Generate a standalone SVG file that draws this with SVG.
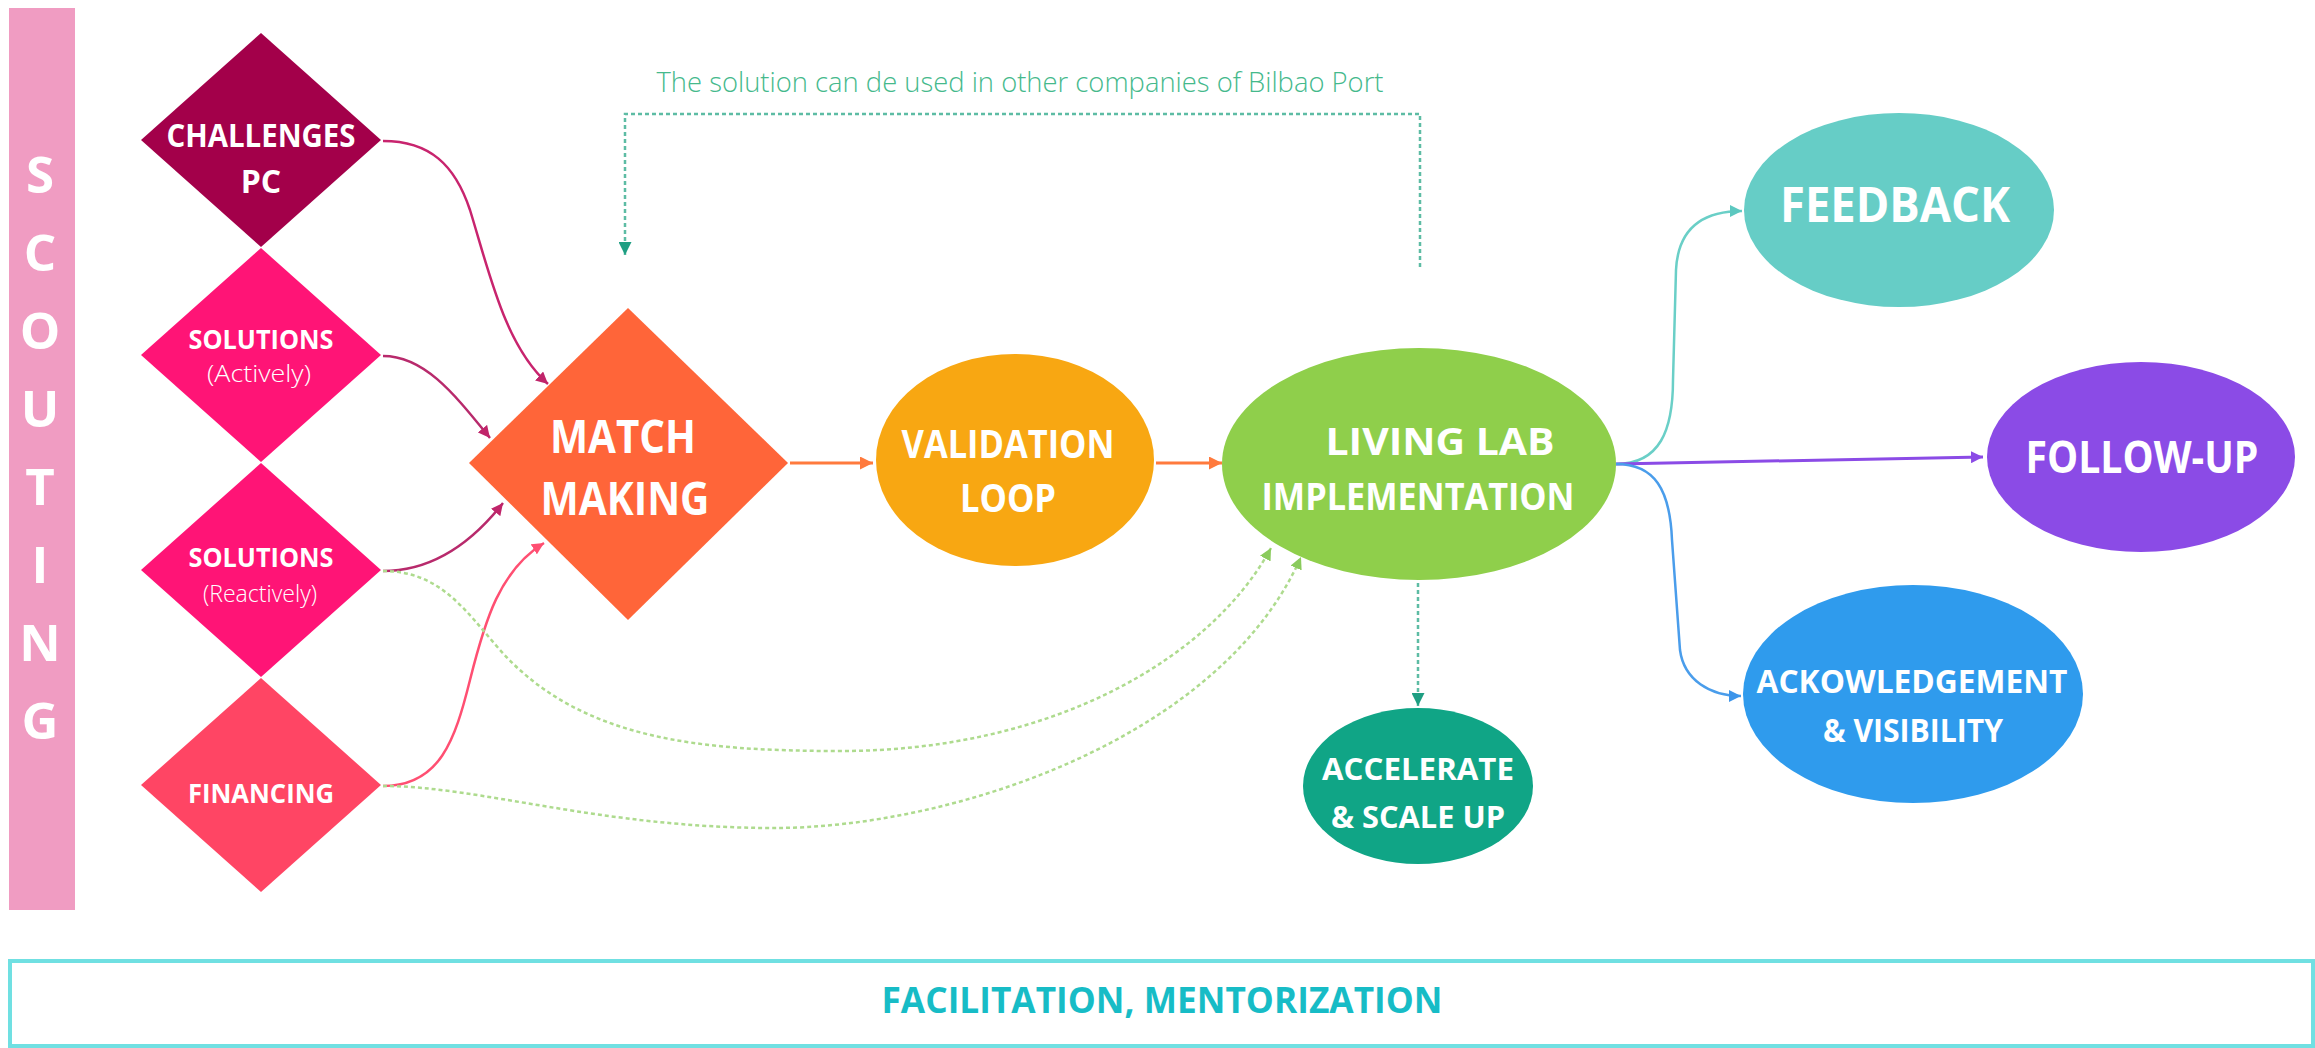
<svg xmlns="http://www.w3.org/2000/svg" width="2315" height="1048" viewBox="0 0 2315 1048">
<style>
.t{font-family:"Open Sans","Liberation Sans",sans-serif;font-weight:700;fill:#ffffff;text-anchor:middle}
.l{font-family:"Open Sans","Liberation Sans",sans-serif;font-weight:300;fill:#ffffff;text-anchor:middle}
.c{fill:none}
.dot{stroke-dasharray:4 3}
</style>
<defs>
<marker id="mPink" viewBox="0 0 10 10" refX="10" refY="5" markerWidth="12" markerHeight="12" markerUnits="userSpaceOnUse" orient="auto"><path d="M0,0 L10,5 L0,10 z" fill="#C0246A"/></marker>
<marker id="mRed" viewBox="0 0 10 10" refX="10" refY="5" markerWidth="12" markerHeight="12" markerUnits="userSpaceOnUse" orient="auto"><path d="M0,0 L10,5 L0,10 z" fill="#FF4F72"/></marker>
<marker id="mGreen" viewBox="0 0 10 10" refX="10" refY="5" markerWidth="12" markerHeight="12" markerUnits="userSpaceOnUse" orient="auto"><path d="M0,0 L10,5 L0,10 z" fill="#8ACB5C"/></marker>
<marker id="mOrange" viewBox="0 0 10 10" refX="10" refY="5" markerWidth="13" markerHeight="13" markerUnits="userSpaceOnUse" orient="auto"><path d="M0,0 L10,5 L0,10 z" fill="#FF7A3D"/></marker>
<marker id="mTeal" viewBox="0 0 10 10" refX="10" refY="5" markerWidth="13" markerHeight="13" markerUnits="userSpaceOnUse" orient="auto"><path d="M0,0 L10,5 L0,10 z" fill="#1E9E82"/></marker>
<marker id="mAqua" viewBox="0 0 10 10" refX="10" refY="5" markerWidth="12" markerHeight="12" markerUnits="userSpaceOnUse" orient="auto"><path d="M0,0 L10,5 L0,10 z" fill="#5CC8C0"/></marker>
<marker id="mPurple" viewBox="0 0 10 10" refX="10" refY="5" markerWidth="12" markerHeight="12" markerUnits="userSpaceOnUse" orient="auto"><path d="M0,0 L10,5 L0,10 z" fill="#8B4BE6"/></marker>
<marker id="mBlue" viewBox="0 0 10 10" refX="10" refY="5" markerWidth="12" markerHeight="12" markerUnits="userSpaceOnUse" orient="auto"><path d="M0,0 L10,5 L0,10 z" fill="#3D95EA"/></marker>
</defs>

<g id="scouting">
<rect x="9" y="8" width="66" height="902" fill="#F09CC2"/>
<text class="t" x="40" y="193" font-size="51">S</text>
<text class="t" x="40" y="271" font-size="51">C</text>
<text class="t" x="40" y="349" font-size="51">O</text>
<text class="t" x="40" y="427" font-size="51">U</text>
<text class="t" x="40" y="505" font-size="51">T</text>
<text class="t" x="40" y="583" font-size="51">I</text>
<text class="t" x="40" y="661" font-size="51">N</text>
<text class="t" x="40" y="739" font-size="51">G</text>
</g>

<g id="connectors">
<path class="c" d="M383,141 C430,141 455,165 470,210 C490,275 505,345 548,384" stroke="#C8246E" stroke-width="2.5" marker-end="url(#mPink)"/>
<path class="c" d="M383,356 C425,356 455,395 490,438" stroke="#B82A6C" stroke-width="2.5" marker-end="url(#mPink)"/>
<path class="c" d="M383,571 C430,571 470,545 503,503" stroke="#B82A6C" stroke-width="2.5" marker-end="url(#mPink)"/>
<path class="c" d="M383,786 C440,786 455,740 470,680 C485,620 500,570 544,543" stroke="#FF4F72" stroke-width="2.5" marker-end="url(#mRed)"/>
<path class="c dot" d="M383,571 C440,571 465,610 500,650 C580,740 700,751 841,751 C1050,751 1210,660 1271,548" stroke="#AEDB8E" stroke-width="2.5" marker-end="url(#mGreen)"/>
<path class="c dot" d="M383,786 C480,786 600,828 774,828 C950,828 1220,740 1301,557" stroke="#AEDB8E" stroke-width="2.5" marker-end="url(#mGreen)"/>
<path class="c" d="M790,463 L873,463" stroke="#FF7A3D" stroke-width="3" marker-end="url(#mOrange)"/>
<path class="c" d="M1156,463 L1222,463" stroke="#FF7A3D" stroke-width="3" marker-end="url(#mOrange)"/>
<path class="c dot" d="M1420,267 L1420,114 L625,114 L625,255" stroke="#5DBCA4" stroke-width="2.5" marker-end="url(#mTeal)"/>
<path class="c dot" d="M1418,576 L1418,706" stroke="#5DBCA4" stroke-width="2.5" marker-end="url(#mTeal)"/>
<path class="c" d="M1616,464 C1660,464 1673,430 1673,380 L1676,270 C1678,230 1700,211 1742,211" stroke="#6ACFC7" stroke-width="2.5" marker-end="url(#mAqua)"/>
<path class="c" d="M1616,464 L1983,457" stroke="#8B4BE6" stroke-width="3" marker-end="url(#mPurple)"/>
<path class="c" d="M1616,464 C1655,464 1670,490 1672,540 L1680,650 C1684,680 1710,696 1741,696" stroke="#4A9DEB" stroke-width="2.5" marker-end="url(#mBlue)"/>
</g>

<text id="loop-label" x="1020" y="92" font-family="'Open Sans','Liberation Sans',sans-serif" font-weight="300" font-size="28" fill="#45B98C" text-anchor="middle" textLength="727" lengthAdjust="spacingAndGlyphs">The solution can de used in other companies of Bilbao Port</text>

<g id="challenges">
<polygon points="261,33 381,140 261,247 141,140" fill="#A3004A"/>
<text class="t" x="261" y="147" font-size="32" textLength="189" lengthAdjust="spacingAndGlyphs">CHALLENGES</text>
<text class="t" x="261" y="193" font-size="32">PC</text>
</g>
<g id="solutions-actively">
<polygon points="261,248 381,355 261,462 141,355" fill="#FF1476"/>
<text class="t" x="261" y="349" font-size="27" textLength="145" lengthAdjust="spacingAndGlyphs">SOLUTIONS</text>
<text class="l" x="259" y="382" font-size="23" textLength="104" lengthAdjust="spacingAndGlyphs">(Actively)</text>
</g>
<g id="solutions-reactively">
<polygon points="261,463 381,570 261,677 141,570" fill="#FF1476"/>
<text class="t" x="261" y="567" font-size="27" textLength="145" lengthAdjust="spacingAndGlyphs">SOLUTIONS</text>
<text class="l" x="260" y="602" font-size="23" textLength="114" lengthAdjust="spacingAndGlyphs">(Reactively)</text>
</g>
<g id="financing">
<polygon points="261,678 381,785 261,892 141,785" fill="#FF4564"/>
<text class="t" x="261" y="803" font-size="27" textLength="146" lengthAdjust="spacingAndGlyphs">FINANCING</text>
</g>
<g id="match-making">
<polygon points="628,308 788,463 628,620 469,463" fill="#FF6539"/>
<text class="t" x="623" y="453" font-size="46" textLength="146" lengthAdjust="spacingAndGlyphs">MATCH</text>
<text class="t" x="625" y="515" font-size="46" textLength="169" lengthAdjust="spacingAndGlyphs">MAKING</text>
</g>
<g id="validation-loop">
<ellipse cx="1015" cy="460" rx="139" ry="106" fill="#F8A712"/>
<text class="t" x="1008" y="458" font-size="40" textLength="213" lengthAdjust="spacingAndGlyphs">VALIDATION</text>
<text class="t" x="1008" y="512" font-size="40" textLength="96" lengthAdjust="spacingAndGlyphs">LOOP</text>
</g>
<g id="living-lab">
<ellipse cx="1419" cy="464" rx="197" ry="116" fill="#8FCF4B"/>
<text class="t" x="1440" y="455" font-size="38" textLength="229" lengthAdjust="spacingAndGlyphs">LIVING LAB</text>
<text class="t" x="1418" y="510" font-size="38" textLength="313" lengthAdjust="spacingAndGlyphs">IMPLEMENTATION</text>
</g>
<g id="accelerate">
<ellipse cx="1418" cy="786" rx="115" ry="78" fill="#10A586"/>
<text class="t" x="1418" y="780" font-size="31" textLength="192" lengthAdjust="spacingAndGlyphs">ACCELERATE</text>
<text class="t" x="1418" y="828" font-size="31" textLength="174" lengthAdjust="spacingAndGlyphs">&amp; SCALE UP</text>
</g>
<g id="feedback">
<ellipse cx="1899" cy="210" rx="155" ry="97" fill="#66CDC6"/>
<text class="t" x="1895" y="222" font-size="49" textLength="230" lengthAdjust="spacingAndGlyphs">FEEDBACK</text>
</g>
<g id="follow-up">
<ellipse cx="2141" cy="457" rx="154" ry="95" fill="#8B4BE6"/>
<text class="t" x="2142" y="473" font-size="44" textLength="233" lengthAdjust="spacingAndGlyphs">FOLLOW-UP</text>
</g>
<g id="acknowledgement">
<ellipse cx="1913" cy="694" rx="170" ry="109" fill="#2F9BED"/>
<text class="t" x="1912" y="693" font-size="33" textLength="311" lengthAdjust="spacingAndGlyphs">ACKOWLEDGEMENT</text>
<text class="t" x="1913" y="742" font-size="33" textLength="180" lengthAdjust="spacingAndGlyphs">&amp; VISIBILITY</text>
</g>
<g id="facilitation">
<rect x="10" y="961" width="2303" height="85" fill="#ffffff" stroke="#70E0E2" stroke-width="4"/>
<text x="1162" y="1013" font-family="'Open Sans','Liberation Sans',sans-serif" font-weight="700" font-size="36" fill="#17BCC6" text-anchor="middle" textLength="561" lengthAdjust="spacingAndGlyphs">FACILITATION, MENTORIZATION</text>
</g>
</svg>
